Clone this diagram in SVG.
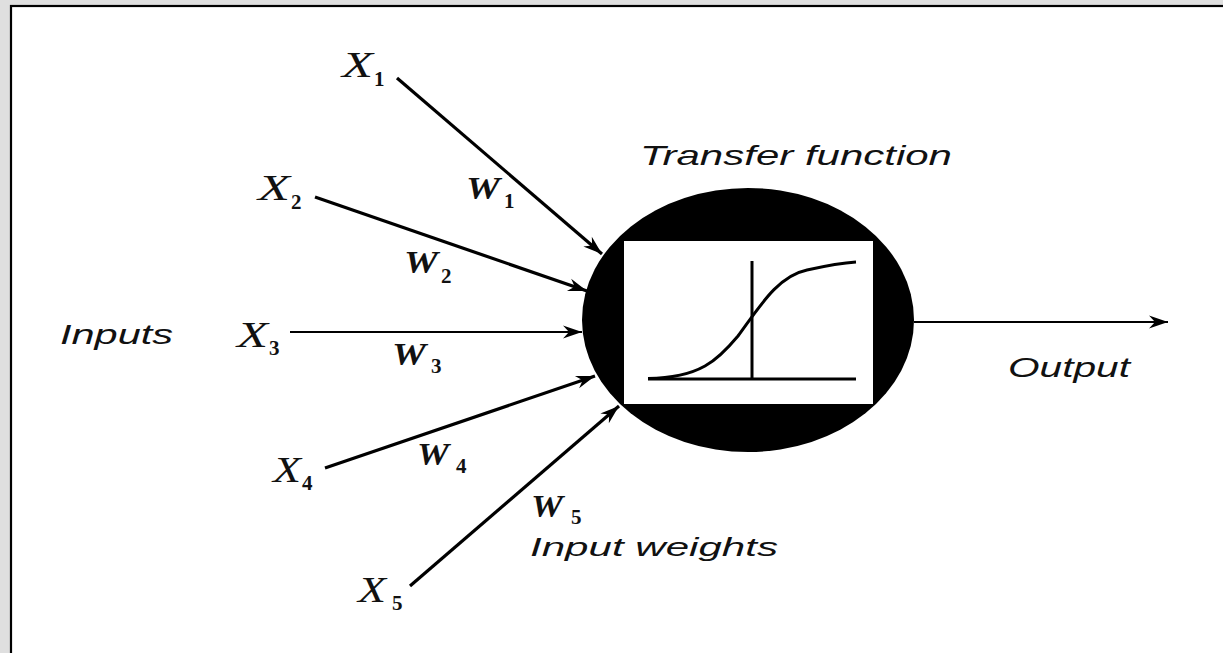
<svg xmlns="http://www.w3.org/2000/svg" width="1223" height="653" viewBox="0 0 1223 653">
<style>
.lbl{font-family:"Liberation Sans",Arial,sans-serif;font-style:italic;font-size:28px;fill:#111}
.var{font-family:"Liberation Serif","Times New Roman",serif;font-style:italic;font-size:36px;fill:#111}
.sub{font-family:"Liberation Serif","Times New Roman",serif;font-weight:bold;font-size:21px;fill:#111}
.wv{font-family:"Liberation Serif","Times New Roman",serif;font-style:italic;font-weight:bold;font-size:31px;fill:#111}
.in{stroke:#000;stroke-width:3.2;fill:none;marker-end:url(#ah)}
.thin{stroke:#000;stroke-width:2;fill:none;marker-end:url(#ah)}
</style>
<defs>
<marker id="ah" markerUnits="userSpaceOnUse" viewBox="-20 -8 22 16" markerWidth="22" markerHeight="16" refX="0" refY="0" orient="auto">
<path d="M0,0 L-19,-6.5 L-13,0 L-19,6.5 Z" fill="#000"/>
</marker>
</defs>
<rect x="0" y="0" width="1223" height="653" fill="#dfdfdf"/>
<rect x="11" y="6" width="1230" height="670" fill="#fff" stroke="#000" stroke-width="2.2"/>

<g id="neuron">
<ellipse cx="748" cy="320" rx="166" ry="132" fill="#000"/>
<rect x="624" y="241" width="249" height="163" fill="#fff"/>
<line x1="648" y1="379" x2="856" y2="379" stroke="#000" stroke-width="3"/>
<line x1="752" y1="261" x2="752" y2="380" stroke="#000" stroke-width="3"/>
<path d="M648,378.5 C700,378 718,360 738,336 C760,306 778,276 807,270 C825,266 840,263 856,262" fill="none" stroke="#000" stroke-width="3"/>
</g>

<g id="connectors">
<line class="in" x1="397" y1="78" x2="602" y2="254"/>
<line class="in" x1="315" y1="197" x2="587" y2="291"/>
<line class="thin" x1="290" y1="332" x2="582" y2="332"/>
<line class="in" x1="325" y1="468" x2="595" y2="376"/>
<line class="in" x1="410" y1="586" x2="619" y2="406"/>
<line class="thin" x1="914" y1="322" x2="1168" y2="322"/>
</g>

<g id="x1"><text class="var" x="342" y="77" textLength="31" lengthAdjust="spacingAndGlyphs">X</text><text class="sub" x="374" y="86">1</text></g>
<g id="x2"><text class="var" x="258" y="200" textLength="32" lengthAdjust="spacingAndGlyphs">X</text><text class="sub" x="291" y="209">2</text></g>
<g id="x3"><text class="var" x="237" y="347" textLength="31" lengthAdjust="spacingAndGlyphs">X</text><text class="sub" x="269" y="355">3</text></g>
<g id="x4"><text class="var" x="273" y="482" textLength="28" lengthAdjust="spacingAndGlyphs">X</text><text class="sub" x="302" y="490">4</text></g>
<g id="x5"><text class="var" x="358" y="602" textLength="28" lengthAdjust="spacingAndGlyphs">X</text><text class="sub" x="392" y="610">5</text></g>

<g id="w1"><text class="wv" x="466" y="199" textLength="34" lengthAdjust="spacingAndGlyphs">W</text><text class="sub" x="504" y="208">1</text></g>
<g id="w2"><text class="wv" x="404" y="273" textLength="34" lengthAdjust="spacingAndGlyphs">W</text><text class="sub" x="441" y="283">2</text></g>
<g id="w3"><text class="wv" x="392" y="365" textLength="34" lengthAdjust="spacingAndGlyphs">W</text><text class="sub" x="431" y="373">3</text></g>
<g id="w4"><text class="wv" x="417" y="465" textLength="32" lengthAdjust="spacingAndGlyphs">W</text><text class="sub" x="456" y="473">4</text></g>
<g id="w5"><text class="wv" x="531" y="517" textLength="32" lengthAdjust="spacingAndGlyphs">W</text><text class="sub" x="571" y="524">5</text></g>

<g id="labels">
<text class="lbl" x="640" y="165" textLength="312" lengthAdjust="spacingAndGlyphs">Transfer function</text>
<text class="lbl" x="60" y="344" textLength="113" lengthAdjust="spacingAndGlyphs">Inputs</text>
<text class="lbl" x="1008" y="377" textLength="122" lengthAdjust="spacingAndGlyphs">Output</text>
<text class="lbl" x="530" y="556" style="font-size:26px" textLength="248" lengthAdjust="spacingAndGlyphs">Input weights</text>
</g>
</svg>
